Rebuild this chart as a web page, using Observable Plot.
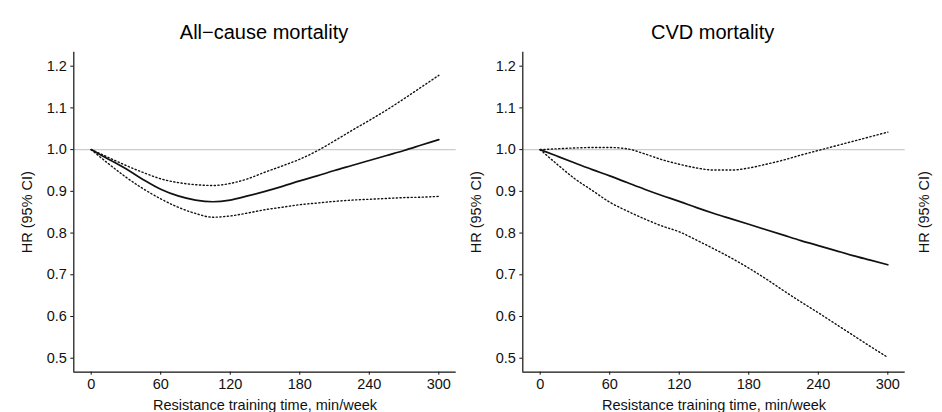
<!DOCTYPE html>
<html>
<head>
<meta charset="utf-8">
<script src="https://cdn.jsdelivr.net/npm/d3@7"></script>
<script src="https://cdn.jsdelivr.net/npm/@observablehq/plot@0.6"></script>
<style>
  html, body { margin: 0; padding: 0; background: #fff; }
  #wrap { position: relative; width: 942px; height: 412px; overflow: hidden; background: #fff;
          font-family: "Liberation Sans", Arial, Helvetica, sans-serif; }
  .panel { position: absolute; top: 0; width: 460px; height: 412px; }
  .title { position: absolute; top: 22px; left: 73px; width: 382px; text-align: center;
           font-size: 20px; line-height: 20px; color: #000; white-space: nowrap; }
  .panel svg { position: absolute; top: 0; left: 0; }
</style>
</head>
<body>
<div id="wrap"></div>
<script>
// ---- data ----
const minutes = [0, 15, 30, 45, 60, 75, 90, 105, 120, 135, 150, 165, 180, 195, 210, 225, 240, 255, 270, 285, 300];

const allHR    = [1.000, 0.977, 0.954, 0.928, 0.905, 0.889, 0.879, 0.875, 0.879, 0.889, 0.900, 0.912, 0.925, 0.937, 0.950, 0.962, 0.974, 0.986, 0.998, 1.011, 1.024];
const allUpper = [1.000, 0.981, 0.962, 0.945, 0.930, 0.921, 0.916, 0.914, 0.919, 0.930, 0.946, 0.961, 0.977, 0.997, 1.021, 1.046, 1.070, 1.095, 1.122, 1.150, 1.178];
const allLower = [1.000, 0.966, 0.934, 0.906, 0.882, 0.862, 0.847, 0.838, 0.841, 0.848, 0.856, 0.862, 0.868, 0.872, 0.876, 0.879, 0.881, 0.883, 0.885, 0.886, 0.888];

const cvdHR    = [1.000, 0.984, 0.968, 0.952, 0.937, 0.921, 0.905, 0.890, 0.876, 0.861, 0.847, 0.834, 0.821, 0.808, 0.795, 0.782, 0.770, 0.758, 0.746, 0.735, 0.724];
const cvdUpper = [1.000, 1.002, 1.004, 1.005, 1.005, 1.002, 0.990, 0.976, 0.965, 0.956, 0.951, 0.951, 0.956, 0.965, 0.975, 0.987, 0.998, 1.009, 1.020, 1.031, 1.042];
const cvdLower = [1.000, 0.964, 0.930, 0.902, 0.874, 0.853, 0.834, 0.817, 0.803, 0.783, 0.762, 0.740, 0.716, 0.690, 0.662, 0.635, 0.609, 0.582, 0.555, 0.528, 0.502];

const panelTitles = ["All\u2212cause mortality", "CVD mortality"];
const xTicks = [0, 60, 120, 180, 240, 300];
const yTicks = [0.5, 0.6, 0.7, 0.8, 0.9, 1.0, 1.1, 1.2];
const xDomain = [-15, 315];
const yDomain = [0.4665, 1.2335];
const refHR = [1];
const xLabel = "Resistance training time, min/week";
const yLabel = "HR (95% CI)";

// ---- drawing ----
const wrap = document.getElementById("wrap");
const panelLeft = [0, 448.7, 897.4];

function rows(hr, lo, hi) {
  return minutes.map((m, i) => ({m, hr: hr[i], lo: lo[i], hi: hi[i]}));
}

function makePlot(data) {
  const marks = [];
  if (data) {
    marks.push(
      Plot.ruleY(refHR, {stroke: "#cccccc", strokeWidth: 1.3}),
      Plot.axisY({ticks: yTicks, tickFormat: ".1f", tickSize: 3, tickPadding: 4,
                  label: yLabel, labelAnchor: "center", labelArrow: "none", labelOffset: 52}),
      Plot.axisX({ticks: xTicks, tickSize: 3, tickPadding: 4,
                  label: xLabel, labelAnchor: "center", labelArrow: "none", labelOffset: 37.5}),
      Plot.ruleX([xDomain[0]], {stroke: "#111", strokeWidth: 1.2}),
      Plot.ruleY([yDomain[0]], {stroke: "#111", strokeWidth: 1.2}),
      Plot.line(data, {x: "m", y: "hi", stroke: "#111", strokeWidth: 1.4, strokeDasharray: "1.2,2.5", curve: "monotone-x"}),
      Plot.line(data, {x: "m", y: "lo", stroke: "#111", strokeWidth: 1.4, strokeDasharray: "1.2,2.5", curve: "monotone-x"}),
      Plot.line(data, {x: "m", y: "hr", stroke: "#111", strokeWidth: 1.7, curve: "monotone-x"})
    );
  } else {
    // third panel is cut off by the picture's edge: only its y-axis title shows
    marks.push(
      Plot.axisY({ticks: yTicks, tickFormat: () => "", tickSize: 0,
                  label: yLabel, labelAnchor: "center", labelArrow: "none", labelOffset: 52})
    );
  }
  return Plot.plot({
    width: 460,
    height: 412,
    marginTop: 51.7,
    marginBottom: 40.3,
    marginLeft: 73.3,
    marginRight: 4.3,
    style: {fontFamily: "'Liberation Sans', Arial, Helvetica, sans-serif", fontSize: "14.5px", color: "#111", background: "transparent", overflow: "visible"},
    x: {domain: xDomain, axis: data ? undefined : null},
    y: {domain: yDomain},
    marks
  });
}

const datasets = [rows(allHR, allLower, allUpper), rows(cvdHR, cvdLower, cvdUpper), null];
datasets.forEach((d, i) => {
  const p = document.createElement("div");
  p.className = "panel";
  p.style.left = panelLeft[i] + "px";
  p.appendChild(makePlot(d));
  if (panelTitles[i]) {
    const t = document.createElement("div");
    t.className = "title";
    t.textContent = panelTitles[i];
    p.appendChild(t);
  }
  wrap.appendChild(p);
});
</script>
</body>
</html>
